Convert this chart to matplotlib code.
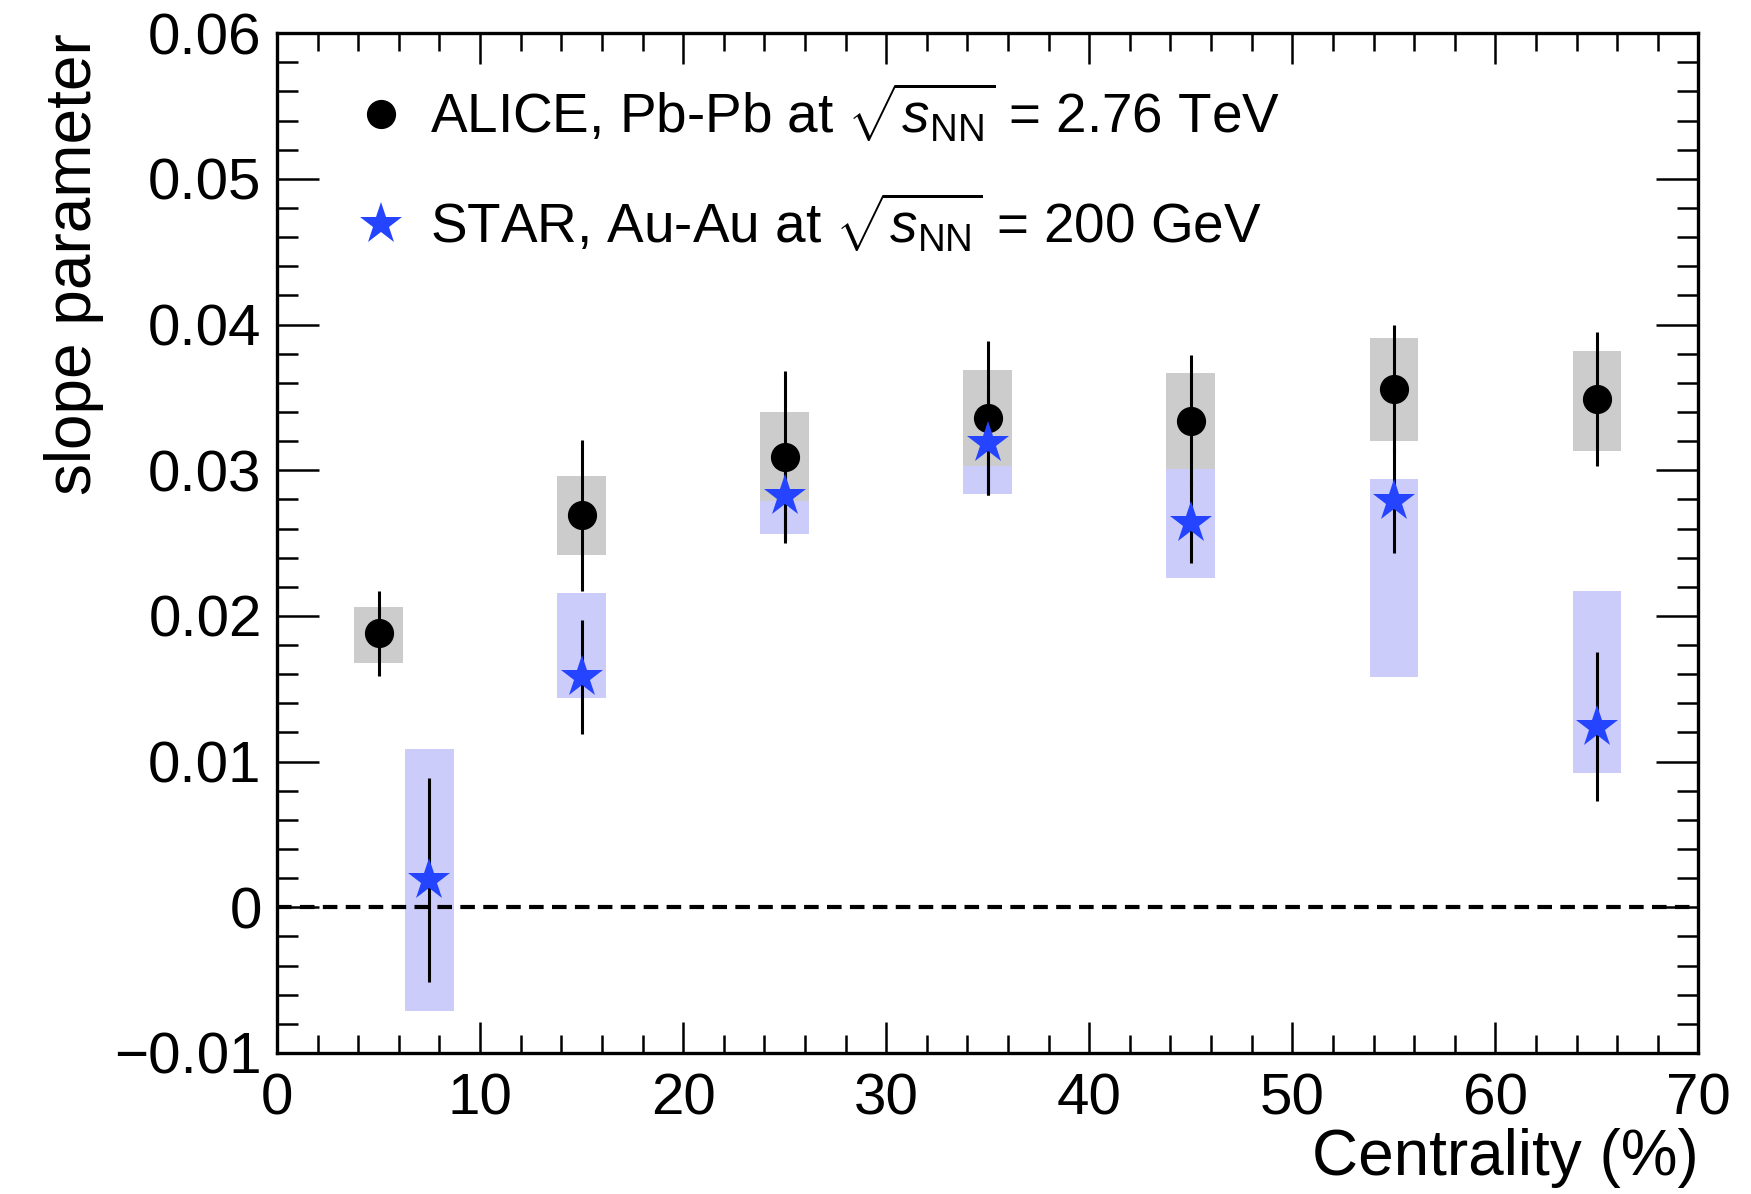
import matplotlib
matplotlib.use("Agg")
from matplotlib import pyplot as plt
from matplotlib.lines import Line2D
from matplotlib.ticker import MultipleLocator

# ALICE, Pb-Pb 2.76 TeV
alice_x = [5, 15, 25, 35, 45, 55, 65]
alice_y = [0.0188, 0.0269, 0.0309, 0.0336, 0.0334, 0.0356, 0.0349]
alice_err = [0.0029, 0.0052, 0.0059, 0.0053, 0.0045, 0.0044, 0.0046]
alice_sys_lo = [0.0168, 0.0242, 0.0279, 0.0303, 0.0301, 0.0320, 0.0313]
alice_sys_hi = [0.0206, 0.0296, 0.0340, 0.0369, 0.0367, 0.0391, 0.0382]

# STAR, Au-Au 200 GeV
star_x = [7.5, 15, 25, 35, 45, 55, 65]
star_y = [0.0019, 0.0158, 0.0282, 0.0319, 0.0264, 0.0279, 0.0124]
star_err = [0.0070, 0.0039, 0.0030, 0.0036, 0.0028, 0.0036, 0.0051]
star_sys_lo = [-0.0071, 0.0144, 0.0256, 0.0284, 0.0226, 0.0158, 0.0092]
star_sys_hi = [0.0109, 0.0216, 0.0310, 0.0355, 0.0305, 0.0294, 0.0217]

xtick_vals = [0, 10, 20, 30, 40, 50, 60, 70]
ytick_vals = [-0.01, 0, 0.01, 0.02, 0.03, 0.04, 0.05, 0.06]
ytick_labels = ["\u22120.01", "0", "0.01", "0.02", "0.03", "0.04", "0.05", "0.06"]

alice_label = r"ALICE, Pb-Pb at $\sqrt{s_{\mathrm{NN}}}$ = 2.76 TeV"
star_label = r"STAR, Au-Au at $\sqrt{s_{\mathrm{NN}}}$ = 200 GeV"

plt.rcParams['font.family'] = ['Liberation Sans', 'DejaVu Sans']
plt.rcParams['mathtext.fontset'] = 'custom'
plt.rcParams['mathtext.rm'] = 'Liberation Sans'
plt.rcParams['mathtext.it'] = 'Liberation Sans:italic'

star_blue = '#2444ff'
box_w = 2.4

fig = plt.figure(figsize=(17.51, 11.94), dpi=100)
ax = fig.add_axes([0.1582, 0.1181, 0.8118, 0.8541])

# systematic boxes (grey drawn over blue)
ax.bar(star_x, [h - l for h, l in zip(star_sys_hi, star_sys_lo)], bottom=star_sys_lo,
       width=box_w, color='#ccccfa', linewidth=0, zorder=1)
ax.bar(alice_x, [h - l for h, l in zip(alice_sys_hi, alice_sys_lo)], bottom=alice_sys_lo,
       width=box_w, color='#cccccc', linewidth=0, zorder=2)

ax.axhline(0, color='black', lw=3, dashes=(3.5, 2), zorder=3)

ax.errorbar(alice_x, alice_y, yerr=alice_err, fmt='none', ecolor='black',
            elinewidth=2.2, capsize=0, zorder=4)
ax.errorbar(star_x, star_y, yerr=star_err, fmt='none', ecolor='black',
            elinewidth=2.2, capsize=0, zorder=4)
ax.plot(alice_x, alice_y, 'o', color='black', markersize=20, zorder=5)
ax.plot(star_x, star_y, '*', color=star_blue, markersize=32, markeredgewidth=0, zorder=6)

ax.set_xlim(0, 70)
ax.set_ylim(-0.01, 0.06)
ax.set_xticks(xtick_vals)
ax.set_yticks(ytick_vals, ytick_labels)
ax.xaxis.set_minor_locator(MultipleLocator(2))
ax.yaxis.set_minor_locator(MultipleLocator(0.002))

ax.tick_params(axis='both', which='both', direction='in', top=True, right=True,
               labelsize=42, width=1.8)
ax.tick_params(axis='x', which='major', length=22, pad=14)
ax.tick_params(axis='x', which='minor', length=13)
ax.tick_params(axis='y', which='major', length=30, pad=11)
ax.tick_params(axis='y', which='minor', length=15)
for s in ax.spines.values():
    s.set_linewidth(2.4)

ax.set_xlabel("Centrality (%)", fontsize=46, loc='right')
ax.xaxis.set_label_coords(1.0, -0.103)
ax.xaxis.label.set_va('center')
ax.set_ylabel("slope parameter", fontsize=46, loc='top')
ax.yaxis.set_label_coords(-0.143, 1.0)
ax.yaxis.label.set_va('center')

handles = [
    Line2D([], [], marker='o', color='black', linestyle='none', markersize=20),
    Line2D([], [], marker='*', color=star_blue, linestyle='none', markersize=32,
           markeredgewidth=0),
]
ax.legend(handles, [alice_label, star_label], loc='upper left',
          bbox_to_anchor=(0.046, 0.974), frameon=False, fontsize=39.5,
          handlelength=0.6, handletextpad=0.6, labelspacing=0.85,
          borderaxespad=0)

fig.savefig("out.png", dpi=100)
